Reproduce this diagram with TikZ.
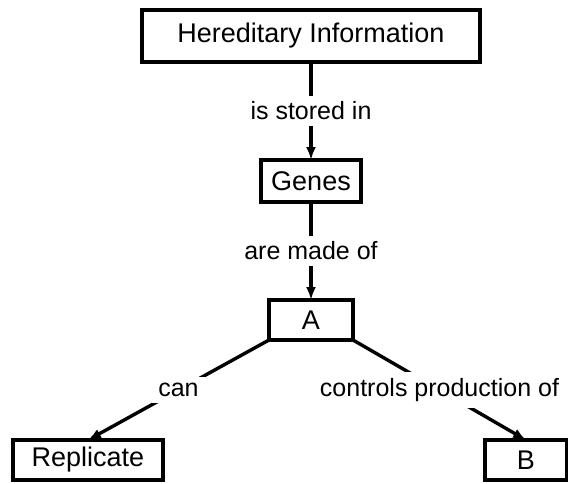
\documentclass[tikz,border=0pt]{standalone}
\usepackage{fontspec}
\setmainfont{Liberation Sans}
\usepackage{tikz}
\usetikzlibrary{arrows.meta,positioning}

\begin{document}
\begin{tikzpicture}[
  x=0.5pt, y=-0.5pt,
  node distance=49pt,
  conceptbox/.style={draw, line width=1.6pt, outer sep=0pt, minimum height=21pt,
               inner xsep=5pt, align=center, font=\fontsize{13.5}{16}\selectfont},
  linklabel/.style={midway, fill=white, inner sep=3pt, font=\fontsize{12.5}{15}\selectfont},
  arrow/.style={-{Latex[length=6.5pt,width=5pt]}, line width=1.7pt}
]
\useasboundingbox (0,0) rectangle (568,483);
\node[conceptbox, minimum width=169pt, minimum height=26pt] (hered) at (311,36) {Hereditary Information};
\node[conceptbox, minimum width=50pt, below=of hered] (genes) {Genes};
\node[conceptbox, minimum width=42pt, minimum height=20pt, below=of genes] (anode) {A};
\node[conceptbox, minimum width=75pt, minimum height=20pt, below left=50pt and 53pt of anode] (replicate) {Replicate};
\node[conceptbox, minimum width=41pt, minimum height=20pt, below right=50pt and 66pt of anode] (bnode) {B};
\draw[arrow] (hered) -- node[linklabel] {is stored in} (genes);
\draw[arrow] (genes) -- node[linklabel] {are made of} (anode);
\draw[arrow] (anode.south west) -- node[linklabel] {can} (replicate.north);
\draw[arrow] (anode.south east) -- node[linklabel] {controls production of} (bnode.north);
\end{tikzpicture}
\end{document}
